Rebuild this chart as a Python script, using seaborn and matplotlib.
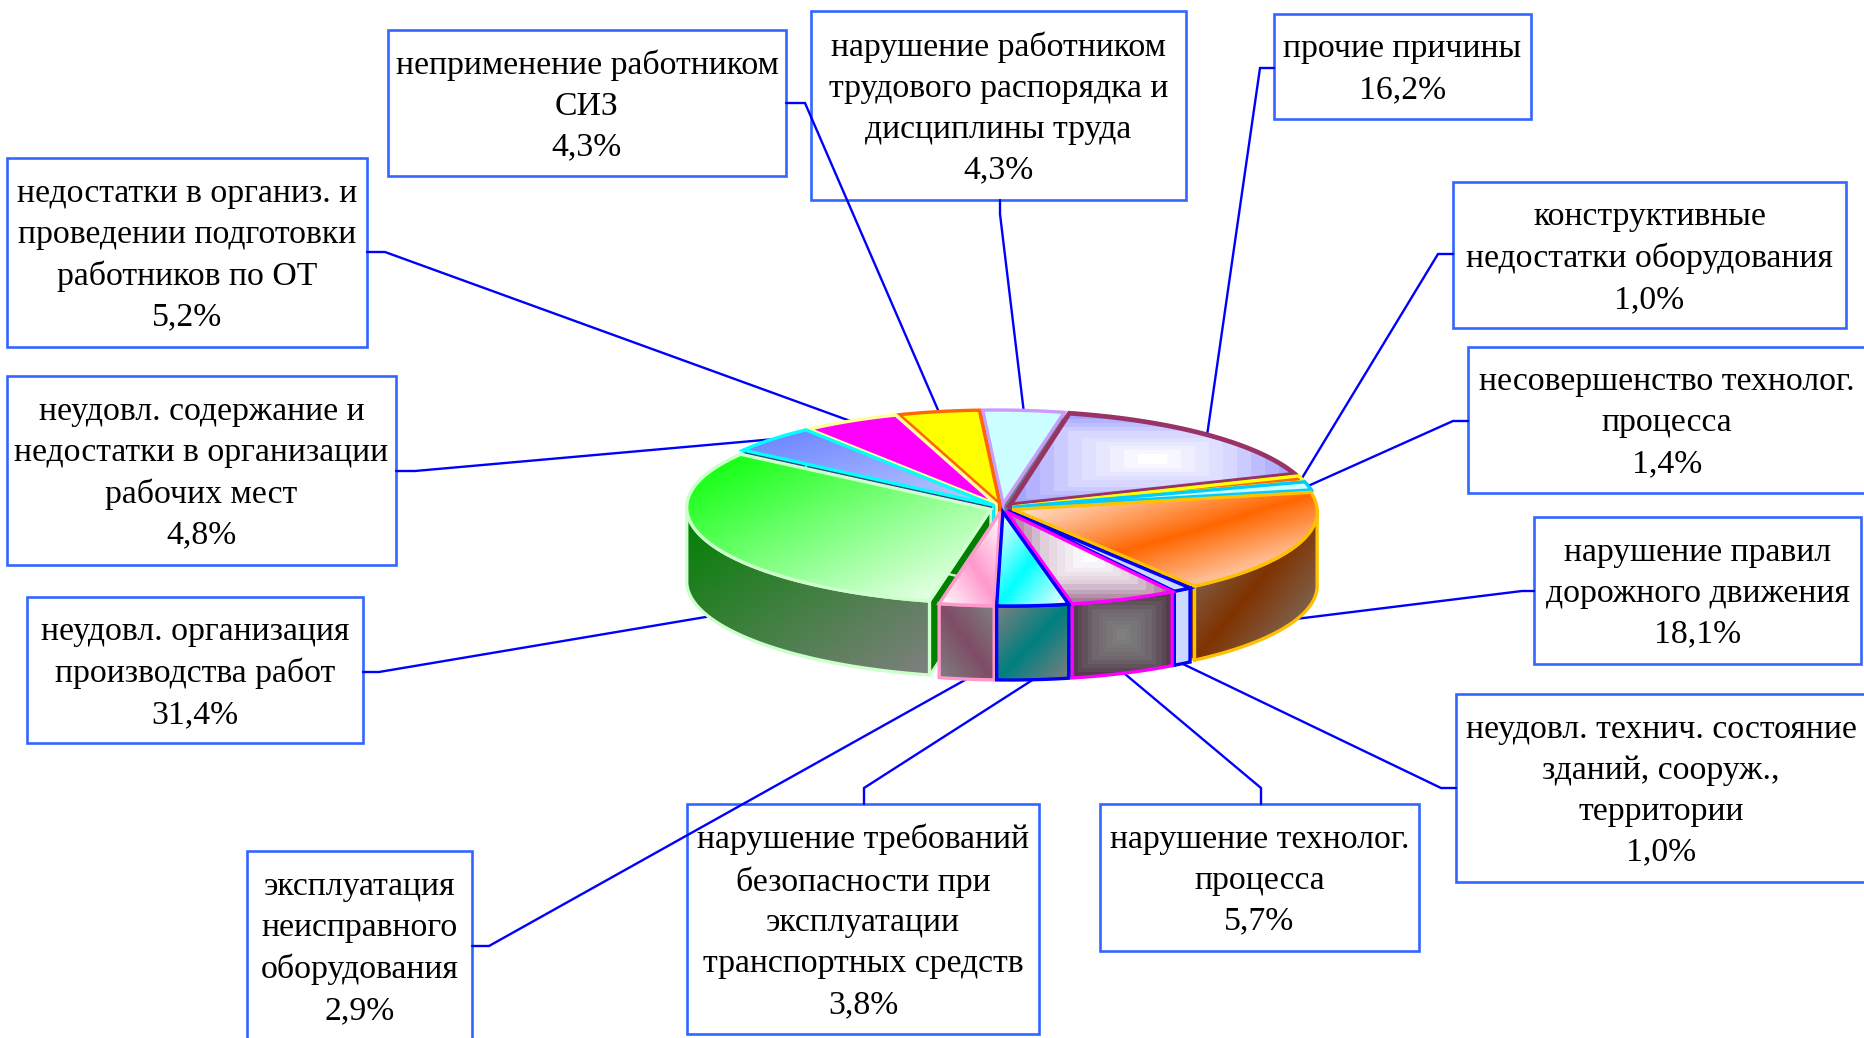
import numpy as np
import matplotlib
matplotlib.use("Agg")
import matplotlib.pyplot as plt
import seaborn as sns
from matplotlib.patches import Polygon, Rectangle

# clockwise from the top of the pie
causes = [
    "прочие причины",
    "конструктивные\nнедостатки оборудования",
    "несовершенство технолог.\nпроцесса",
    "нарушение правил\nдорожного движения",
    "неудовл. технич. состояние\nзданий, сооруж.,\nтерритории",
    "нарушение технолог.\nпроцесса",
    "нарушение требований\nбезопасности при\nэксплуатации\nтранспортных средств",
    "эксплуатация\nнеисправного\nоборудования",
    "неудовл. организация\nпроизводства работ",
    "неудовл. содержание и\nнедостатки в организации\nрабочих мест",
    "недостатки в организ. и\nпроведении подготовки\nработников по ОТ",
    "неприменение работником\nСИЗ",
    "нарушение работником\nтрудового распорядка и\nдисциплины труда",
]
shares = [16.2, 1.0, 1.4, 18.1, 1.0, 5.7, 3.8, 2.9, 31.4, 4.8, 5.2, 4.3, 4.3]

# (gradient kind, colours, outline, outline width, wall is darkened)
slice_styles = [
    ("rect", ["#ffffff", "#d8d8ff", "#9999ff"], "#993366", 3.4, True),
    ("solid", ["#ff6600"], "#ffff00", 2.4, True),
    ("solid", ["#ccffff"], "#00ccff", 2.4, True),
    ("slash", ["#ffffff", "#ff6600", "#ffffff"], "#ffc000", 2.4, True),
    ("solid", ["#ccd9ff"], "#0000ff", 2.4, False),
    ("rect", ["#ffffff", "#e0d0dc", "#996688"], "#ff00ff", 2.4, True),
    ("slash", ["#ffffff", "#00ffff", "#ffffff"], "#0000ff", 2.4, True),
    ("backslash", ["#ffffff", "#ff99cc", "#ffffff"], "#ff99cc", 2.4, True),
    ("slash", ["#00ff00", "#ffffff"], "#ccffcc", 2.4, True),
    ("slash", ["#6680ff", "#c0ccff"], "#00ffff", 2.4, True),
    ("solid", ["#ff00ff"], "#ffff99", 2.4, True),
    ("solid", ["#ffff00"], "#ff6600", 2.4, True),
    ("solid", ["#ccffff"], "#cc99ff", 2.4, True),
]

# label boxes: left, right, top, bottom in pixels
boxes = [
    (1274, 1531, 14, 119), (1453, 1846, 182, 328), (1468, 1866, 347, 493),
    (1534, 1861, 517, 664), (1456, 1866, 694, 882), (1100, 1419, 804, 951),
    (687, 1039, 804, 1034), (247, 472, 851, 1045), (27, 363, 597, 743),
    (7, 396, 376, 565), (7, 367, 158, 347), (388, 786, 30, 176), (811, 1186, 11, 200),
]
# leader line: where it leaves the box, then the kink
leader_starts = [
    ((1274, 68), (1260, 68)), ((1453, 254), (1438, 254)), ((1468, 421), (1453, 421)),
    ((1534, 591), (1522, 591)), ((1456, 788), (1441, 788)), ((1261, 804), (1261, 788)),
    ((864, 804), (864, 788)), ((472, 946), (489, 946)), ((363, 672), (379, 672)),
    ((396, 471), (415, 471)), ((367, 252), (385, 252)), ((786, 103), (805, 103)),
    ((1000, 200), (1000, 214)),
]

CX, CY = 1002, 508
RX, RY = 304, 94
EX, EY = 12, 4
DEPTH = 74
START = 12.5
SKEW = 0.07

sns.set_theme(style="white")
plt.rcParams["font.family"] = ["Liberation Serif", "DejaVu Serif"]

fig = plt.figure(figsize=(18.64, 10.38), dpi=100)
ax = fig.add_axes([0, 0, 1, 1])
ax.set_axis_off()


def gradient_fill(points, kind, colors, dark, z):
    pts = np.array(points)
    x0, y0 = pts.min(axis=0)
    x1, y1 = pts.max(axis=0)
    if kind == "solid":
        rgb = np.array(sns.color_palette(colors, 1))[None, :, :]
    else:
        nx, ny = max(int((x1 - x0) / 2), 2), max(int((y1 - y0) / 2), 2)
        u, v = np.meshgrid(np.linspace(0, 1, nx), np.linspace(0, 1, ny))
        if kind == "rect":
            t = np.maximum(abs(u - 0.5), abs(v - 0.5)) * 2
            t = np.floor(t * 10) / 10
        elif kind == "slash":
            t = (u + v) / 2
        else:
            t = (u + 1 - v) / 2
        cmap = sns.blend_palette(colors, as_cmap=True)
        rgb = cmap(t)[:, :, :3]
    if dark:
        rgb = rgb * 0.5
    im = ax.imshow(rgb, extent=(x0, x1, y1, y0), origin="upper", aspect="auto",
                   interpolation="nearest", zorder=z)
    im.set_clip_path(Polygon(points, transform=ax.transData))


def rim(theta, ox, oy):
    t = np.radians(theta)
    return ox + RX * np.sin(t) - SKEW * RY * np.cos(t), oy - RY * np.cos(t)


def draw_slice(share, start, style, z):
    kind, colors, edge, lw, wall_dark = style
    end = start + share * 3.6
    mid = (start + end) / 2
    ox = CX + EX * np.sin(np.radians(mid))
    oy = CY - EY * np.cos(np.radians(mid))
    main = colors[1] if len(colors) == 3 else colors[0]

    # the two cut faces
    for a in (start, end):
        ex, ey = rim(a, ox, oy)
        face = [(ox, oy), (ex, ey), (ex, ey + DEPTH), (ox, oy + DEPTH)]
        gradient_fill(face, "solid", [main], True, z)
        ax.add_patch(Polygon(face, fill=False, ec=edge, lw=lw * 0.7, zorder=z + 0.1))

    # outer wall, only on the front half
    a0, a1 = max(start, 90), min(end, 270)
    if a1 > a0:
        arc = [rim(a, ox, oy) for a in np.linspace(a0, a1, 60)]
        wall = arc + [(x, y + DEPTH) for x, y in arc[::-1]]
        gradient_fill(wall, kind, colors, wall_dark, z + 0.2)
        ax.add_patch(Polygon(wall, fill=False, ec=edge, lw=lw, zorder=z + 0.3))

    # top
    arc = [rim(a, ox, oy) for a in np.linspace(start, end, 80)]
    top = [(ox, oy)] + arc
    gradient_fill(top, kind, colors, False, z + 0.4)
    ax.add_patch(Polygon(top, fill=False, ec=edge, lw=lw, zorder=z + 0.5))


starts = START + np.cumsum([0] + shares[:-1]) * 3.6
mids = starts + np.array(shares) * 1.8

# boxes at the bottom, then leaders, then the pie
for (l, r, t, b) in boxes:
    ax.add_patch(Rectangle((l, t), r - l, b - t, fc="white", ec="#3366ff", lw=1.9, zorder=1))

for mid, (p0, p1) in zip(mids, leader_starts):
    ex, ey = rim(mid, CX + EX * np.sin(np.radians(mid)), CY - EY * np.cos(np.radians(mid)))
    if np.cos(np.radians(mid)) < 0:
        ey += DEPTH
    ax.plot([p0[0], p1[0], ex], [p0[1], p1[1], ey], color="#0000ff", lw=1.7, zorder=2,
            solid_joinstyle="miter")

# back slices first
order = np.argsort(-np.cos(np.radians(mids)))
for n, i in enumerate(order):
    draw_slice(shares[i], starts[i], slice_styles[i], 3 + n)

for name, share, (l, r, t, b) in zip(causes, shares, boxes):
    label = name + "\n" + f"{share:.1f}%".replace(".", ",")
    lines = label.count("\n") + 1
    ax.text((l + r) / 2, (t + min(b, t + lines * 42 + 22)) / 2 + 3, label, ha="center", va="center",
            fontsize=24.3, linespacing=1.44, color="black", zorder=31)

ax.set_xlim(0, 1864)
ax.set_ylim(1038, 0)
fig.savefig("out.png", dpi=100)
